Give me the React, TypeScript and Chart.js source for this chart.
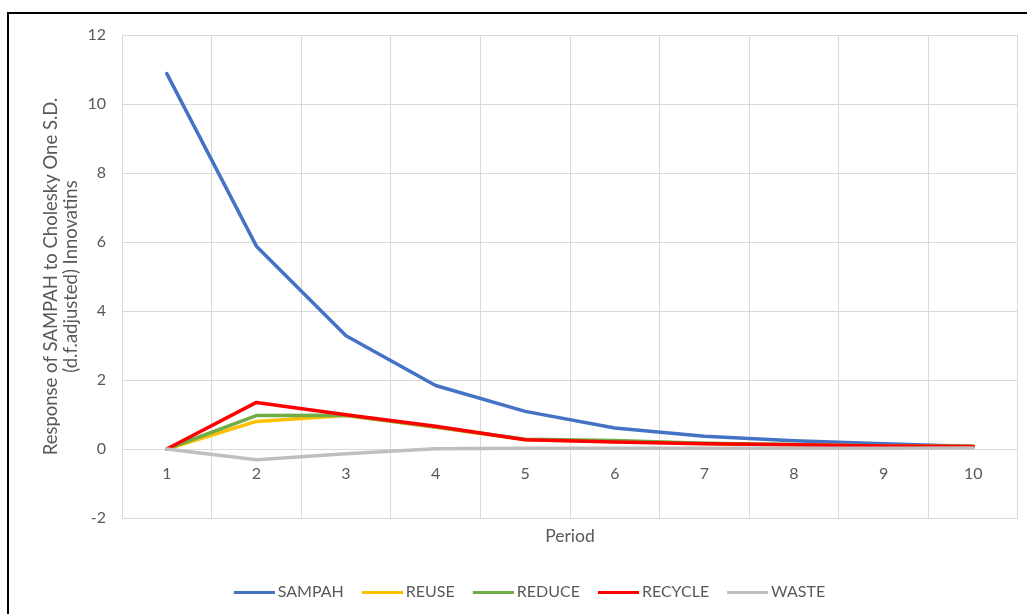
import React, { useEffect, useRef } from 'react';
import { Chart, registerables } from 'chart.js';

Chart.register(...registerables);

const periods = ['1', '2', '3', '4', '5', '6', '7', '8', '9', '10'];
const sampah = [10.88, 5.88, 3.28, 1.84, 1.09, 0.61, 0.37, 0.24, 0.15, 0.07];
const reuse = [0, 0.8, 0.97, 0.63, 0.27, 0.22, 0.16, 0.12, 0.09, 0.07];
const reduce = [0, 0.97, 0.98, 0.64, 0.28, 0.25, 0.17, 0.13, 0.09, 0.07];
const recycle = [0, 1.35, 0.99, 0.66, 0.27, 0.2, 0.15, 0.12, 0.09, 0.07];
const waste = [0, -0.31, -0.14, 0.01, 0.02, 0.02, 0.02, 0.02, 0.02, 0.03];

const seriesNames = ['SAMPAH', 'REUSE', 'REDUCE', 'RECYCLE', 'WASTE'];
const seriesValues = [sampah, reuse, reduce, recycle, waste];
const seriesColors = ['#4472C4', '#FFC000', '#70AD47', '#FF0000', '#BFBFBF'];

const yTitle = ['Response of SAMPAH to Cholesky One S.D.', '(d.f.adjusted) Innovatins'];
const xTitle = 'Period';
const yMin = -2;
const yMax = 12;
const yStep = 2;

const TEXT = '#595959';
const GRID = '#d9d9d9';
const FONT = 'Lato';

function legendSwatch(color: string): HTMLCanvasElement {
  const c = document.createElement('canvas');
  c.width = 46;
  c.height = 3;
  const ctx = c.getContext('2d')!;
  ctx.fillStyle = color;
  ctx.fillRect(5, 0, 41, 3);
  return c;
}

export default function App() {
  const ref = useRef<HTMLCanvasElement>(null);

  useEffect(() => {
    Chart.defaults.font.family = FONT;
    const datasets = seriesNames.map((name, i) => ({
      label: name,
      data: seriesValues[i],
      borderColor: seriesColors[i],
      backgroundColor: seriesColors[i],
      borderWidth: 3.5,
      borderJoinStyle: 'round' as const,
      borderCapStyle: 'round' as const,
      pointRadius: 0,
      pointHoverRadius: 0,
      pointStyle: legendSwatch(seriesColors[i]) as any,
      tension: 0,
      order: seriesNames.length - 1 - i,
    }));

    const chart = new Chart(ref.current!, {
      type: 'line',
      data: { labels: periods, datasets },
      options: {
        responsive: false,
        animation: false,
        layout: { padding: { left: 41, right: 9, top: 35, bottom: 4 } },
        plugins: {
          legend: {
            position: 'bottom',
            labels: {
              usePointStyle: true,
              pointStyleWidth: 36,
              padding: 18,
              color: TEXT,
              font: { family: FONT, size: 16 },
              sort: (a: any, b: any) => a.datasetIndex - b.datasetIndex,
            },
          },
          tooltip: { enabled: false },
        },
        scales: {
          x: {
            type: 'category',
            offset: true,
            grid: { offset: true, color: GRID, lineWidth: 1, drawTicks: false },
            border: { display: false },
            ticks: { display: false },
            title: {
              display: true,
              text: xTitle,
              color: TEXT,
              font: { family: FONT, size: 17.5, lineHeight: '20px' },
              padding: { top: 8, bottom: 20 },
            },
          },
          x2: {
            type: 'category',
            position: { y: 0 } as any,
            offset: true,
            grid: { display: false, drawTicks: false },
            border: { display: false },
            ticks: { color: TEXT, font: { family: FONT, size: 16 }, padding: 15 },
          },
          y: {
            min: yMin,
            max: yMax,
            ticks: { stepSize: yStep, padding: 16, color: TEXT, font: { family: FONT, size: 16 } },
            grid: { color: GRID, lineWidth: 1, drawTicks: false },
            border: { display: false },
            title: {
              display: true,
              text: yTitle,
              color: TEXT,
              font: { family: FONT, size: 18.5, lineHeight: '20px' },
              padding: { top: 0, bottom: 0 },
            },
            afterFit: (s: any) => {
              s.width = 81;
            },
          },
        },
      } as any,
    });
    return () => chart.destroy();
  }, []);

  return (
    <div
      style={{
        position: 'absolute',
        left: 0,
        top: 0,
        width: 1027,
        height: 614,
        overflow: 'hidden',
        background: '#ffffff',
      }}
    >
      <canvas ref={ref} width={1027} height={614} style={{ display: 'block' }} />
      <div
        style={{
          position: 'absolute',
          left: 7,
          top: 12,
          width: 1100,
          height: 700,
          borderLeft: '2px solid #000',
          borderTop: '2px solid #000',
          pointerEvents: 'none',
        }}
      />
    </div>
  );
}
